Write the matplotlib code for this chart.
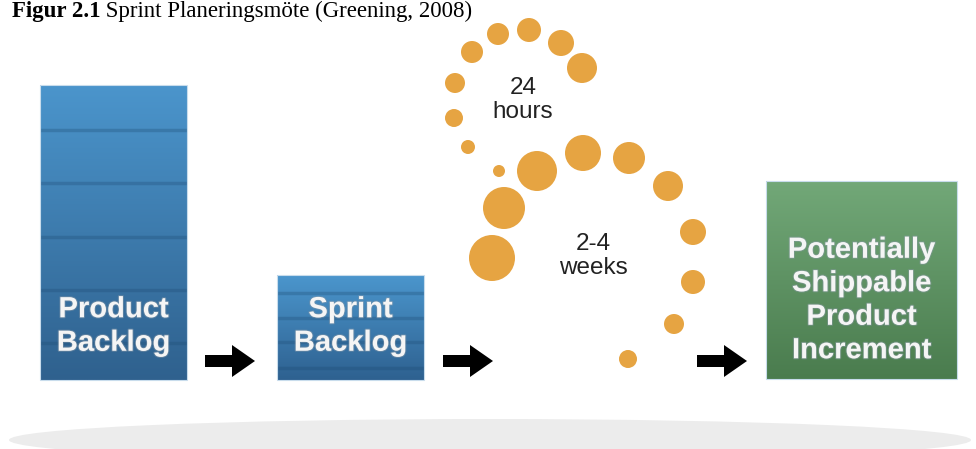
import numpy as np
import matplotlib
matplotlib.use("Agg")
import matplotlib.pyplot as plt
import matplotlib.patheffects as pe
from matplotlib.patches import Rectangle, Circle, Ellipse, FancyArrow
from matplotlib.colors import LinearSegmentedColormap

# text content
title_bold = "Figur 2.1"
title_rest = " Sprint Planeringsmöte (Greening, 2008)"
box_labels = ["Product\nBacklog", "Sprint\nBacklog",
              "Potentially\nShippable\nProduct\nIncrement"]
cycle_labels = ["24\nhours", "2-4\nweeks"]

# layout (pixel coords, y down)
boxes = [  # x0, y0, x1, y1, top colour, bottom colour
    (40, 85, 187, 380, "#4b95cc", "#2f618e"),
    (277, 275, 424, 380, "#4b96cd", "#2e6190"),
    (766, 181, 957, 379, "#72a878", "#4a7c4e"),
]
stripes = [
    [130, 183, 237, 290, 343],
    [293, 318, 342, 368],
    [],
]
box_text_y = [326, 326, 300]
arrows_x = [205, 443, 697]
arrow_y = 361

# dots: x, y, radius
dots_day = [(455, 83, 10), (454, 118, 9), (468, 147, 7), (472, 52, 11),
            (498, 34, 11), (529, 30, 12), (561, 43, 13), (582, 68, 15)]
dots_sprint = [(499, 171, 6), (537, 171, 20), (583, 153, 18), (629, 158, 16),
               (668, 186, 15), (693, 232, 13), (693, 282, 12), (674, 324, 10),
               (628, 359, 9), (504, 208, 21), (492, 258, 23)]

W, H = 976, 449
fig = plt.figure(figsize=(W / 100, H / 100), dpi=100)
ax = fig.add_axes([0, 0, 1, 1])
ax.set_xlim(0, W)
ax.set_ylim(H, 0)
ax.axis("off")

# floor shadow
ax.add_patch(Ellipse((490, 440), 962, 42, color="#ececec", lw=0, zorder=0))

# boxes with vertical gradients
for (x0, y0, x1, y1, ctop, cbot), st in zip(boxes, stripes):
    cmap = LinearSegmentedColormap.from_list("g", [ctop, cbot])
    grad = np.linspace(0, 1, 256).reshape(-1, 1)
    ax.imshow(grad, cmap=cmap, extent=(x0, x1, y1, y0), origin="upper",
              aspect="auto", zorder=1)
    for sy in st:
        ax.plot([x0, x1], [sy, sy], color="#1d4a72", alpha=0.3, lw=2.5,
                solid_capstyle="butt", zorder=2)
    ax.add_patch(Rectangle((x0, y0), x1 - x0, y1 - y0, fill=False,
                           ec="#c8dcec", lw=0.8, zorder=3))

halo = [pe.withStroke(linewidth=1.5, foreground="#8a9aa8", alpha=0.45)]
for (x0, y0, x1, y1, _, _), lab, ty in zip(boxes, box_labels, box_text_y):
    ax.text((x0 + x1) / 2, ty, lab, ha="center", va="center", color="#f5f5f5",
            fontsize=21, fontweight="bold", family="Liberation Sans",
            linespacing=1.25, zorder=4, path_effects=halo)

# arrows
for ax0 in arrows_x:
    ax.add_patch(FancyArrow(ax0, arrow_y, 27, 0, width=12, head_width=32,
                            head_length=23, length_includes_head=False,
                            color="black", lw=0, zorder=4))

# cycle dots
for x, y, r in dots_day + dots_sprint:
    ax.add_patch(Circle((x, y), r, color="#e6a442", lw=0, zorder=2))

ax.text(523, 100, cycle_labels[0], ha="center", va="center", color="#222222",
        fontsize=17.5, family="Liberation Sans", linespacing=1.15)
ax.text(593, 256, cycle_labels[1], ha="center", va="center", color="#222222",
        fontsize=17.5, family="Liberation Sans", linespacing=1.15)

# caption at the top
t1 = ax.text(12, 17.5, title_bold, ha="left", va="baseline", fontsize=16.5,
             fontweight="bold", family="Liberation Serif", color="black")
fig.canvas.draw()
bb = t1.get_window_extent()
x_end = ax.transData.inverted().transform((bb.x1, bb.y0))[0]
ax.text(x_end, 17.5, title_rest, ha="left", va="baseline", fontsize=16.5,
        family="Liberation Serif", color="black")

fig.savefig("out.png", dpi=100)
